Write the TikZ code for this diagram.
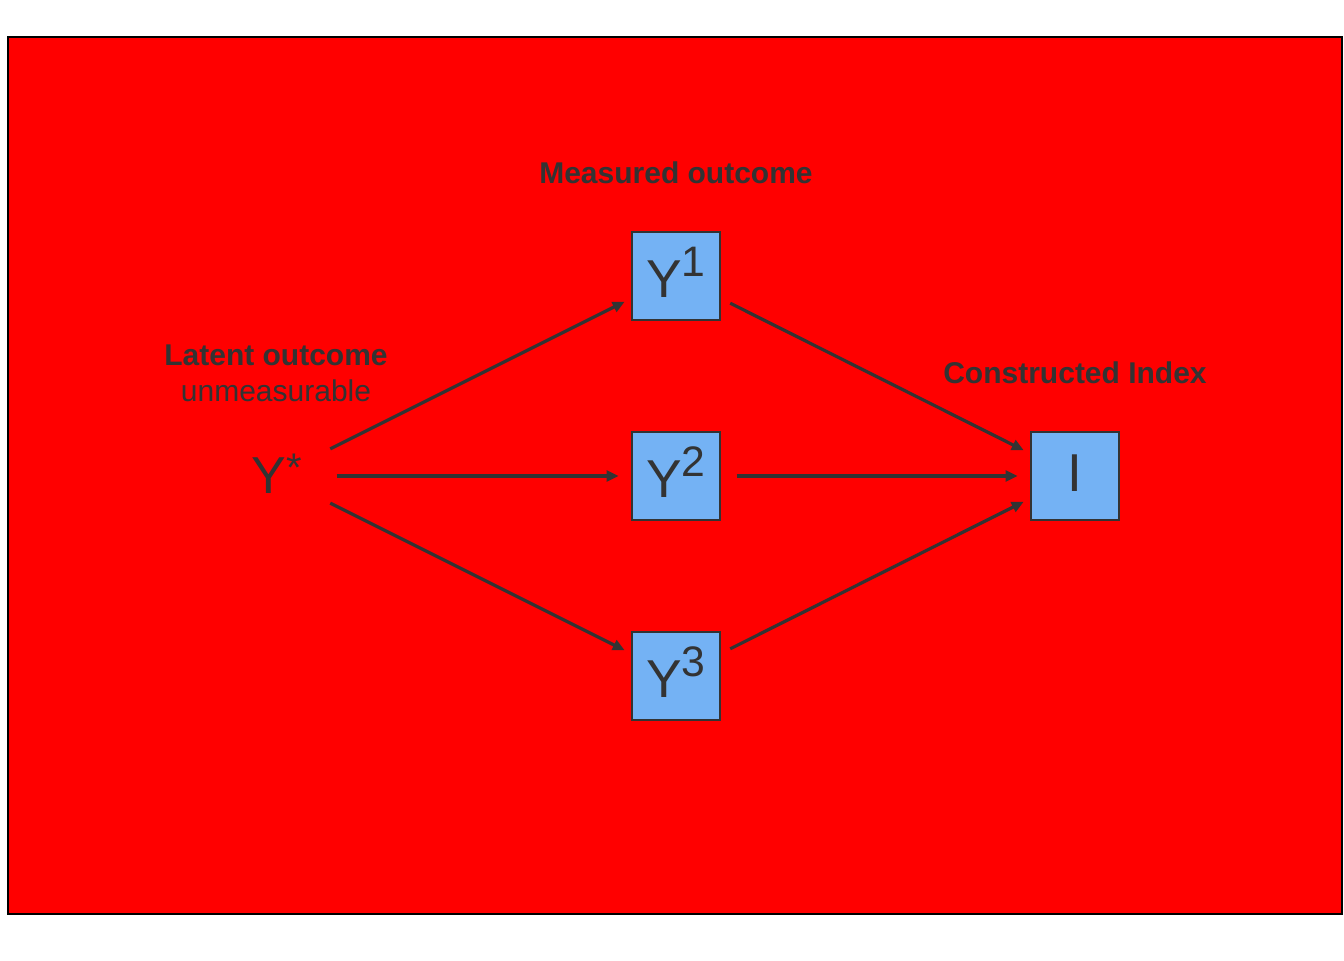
\documentclass[tikz,border=0pt]{standalone}
\usepackage{fontspec}
\setmainfont{Liberation Sans}
\usetikzlibrary{arrows.meta}
\definecolor{txt}{HTML}{333333}
\definecolor{boxblue}{HTML}{74B2F4}
\tikzset{
  vbox/.style={draw=txt, line width=1.5pt, fill=boxblue, minimum width=66pt, minimum height=66pt, inner sep=0pt, text=txt, font=\fontsize{40}{44}\selectfont},
  lbl/.style={text=txt, font=\fontsize{22.5}{27}\selectfont\bfseries, align=center, inner sep=0pt},
  arr/.style={draw=txt, line width=2.4pt, -{Triangle[length=9pt,width=8pt]}, shorten <=45.5pt, shorten >=43pt}
}
\newcommand{\ysup}[1]{\raisebox{6pt}{Y\raisebox{0.4em}{\fontsize{32}{34}\selectfont #1}}}
\begin{document}
\begin{tikzpicture}[x=0.75pt,y=-0.75pt]
\useasboundingbox (0,0) rectangle (1344,960);
\draw[fill=red, draw=black, line width=1.1pt] (8,37) rectangle (1342,914);
\node[text=txt, inner sep=0pt, font=\fontsize{39}{44}\selectfont] (ys) at (277,474) {Y\textsuperscript{\fontsize{30}{32}\selectfont *}};
\node[vbox] (y1) at (676,276) {\ysup{1}};
\node[vbox] (y2) at (676,476) {\ysup{2}};
\node[vbox] (y3) at (676,676) {\ysup{3}};
\node[vbox] (ix) at (1075,476) {\raisebox{4.5pt}{I}};
\node[lbl] (lm) at (676,173) {Measured outcome};
\node[lbl, anchor=center] (ll) at (276,373) {Latent outcome\\\mdseries unmeasurable};
\node[lbl] (lc) at (1075,373) {Constructed Index};
\coordinate (ysc) at (276,476);
\draw[arr] (ysc) -- (y1.center);
\draw[arr] (ysc) -- (y2.center);
\draw[arr] (ysc) -- (y3.center);
\draw[arr] (y1.center) -- (ix.center);
\draw[arr] (y2.center) -- (ix.center);
\draw[arr] (y3.center) -- (ix.center);
\end{tikzpicture}
\end{document}
